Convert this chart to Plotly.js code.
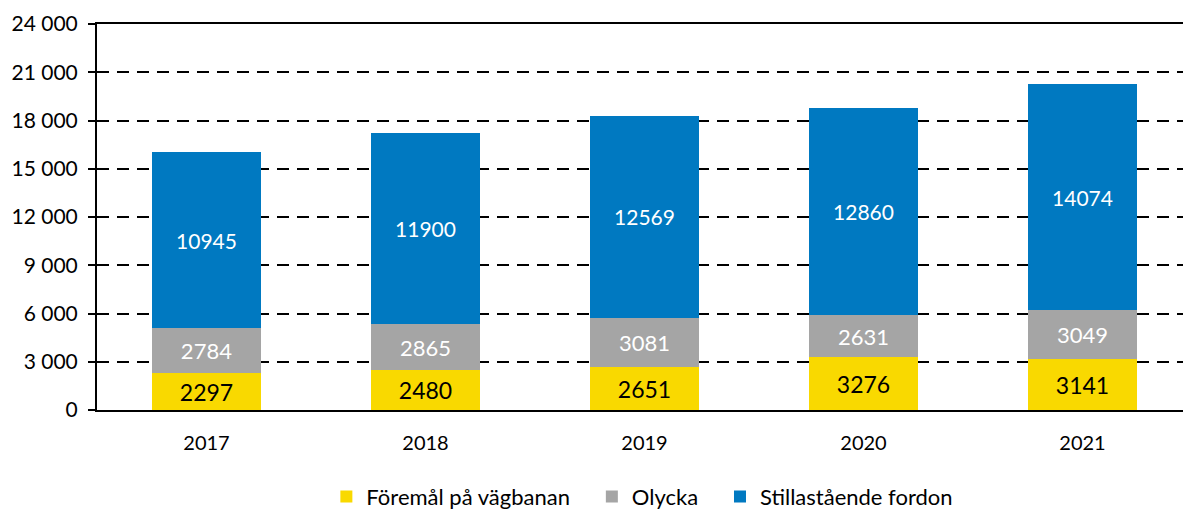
<!DOCTYPE html>
<html>
<head>
<meta charset="utf-8">
<script src="https://cdn.plot.ly/plotly-3.0.1.min.js"></script>
<style>html,body{margin:0;padding:0;background:#fff;}#chart{width:1183px;height:510px;}</style>
</head>
<body>
<div id="chart"></div>
<script>
const years = ['2017', '2018', '2019', '2020', '2021'];
const foremal = [2297, 2480, 2651, 3276, 3141];
const olycka = [2784, 2865, 3081, 2631, 3049];
const stillastaende = [10945, 11900, 12569, 12860, 14074];
const seriesNames = ['Föremål på vägbanan', 'Olycka', 'Stillastående fordon'];
const yTicks = [0, 3000, 6000, 9000, 12000, 15000, 18000, 21000, 24000];
const yTickLabels = ['0', '3 000', '6 000', '9 000', '12 000', '15 000', '18 000', '21 000', '24 000'];

const FONT = 'Lato, "Open Sans", sans-serif';
const PAD = '\u00a0\u00a0\u00a0';

function mk(name, vals, color, textColor, size) {
  return {
    type: 'bar', name: name, x: years, y: vals,
    marker: {color: color, line: {width: 0}},
    text: vals.map(String), textposition: 'inside', insidetextanchor: 'middle',
    textangle: 0, constraintext: 'none',
    textfont: {family: FONT, size: size, color: textColor},
    hoverinfo: 'skip'
  };
}

const data = [
  mk(seriesNames[0] + PAD, foremal, '#F9D900', '#000000', 23),
  mk(seriesNames[1] + PAD, olycka, '#A5A5A5', '#FFFFFF', 22),
  mk(seriesNames[2], stillastaende, '#0079C1', '#FFFFFF', 21)
];

const layout = {
  width: 1183, height: 510,
  margin: {l: 97, r: 0, t: 24, b: 100, pad: 0},
  paper_bgcolor: '#fff', plot_bgcolor: '#fff',
  barmode: 'stack', bargap: 0.5,
  font: {family: FONT, size: 20, color: '#000'},
  showlegend: true,
  legend: {orientation: 'h', x: 0.543, xanchor: 'center', xref: 'container', y: 0.026, yanchor: 'middle', yref: 'container',
    font: {family: FONT, size: 22, color: '#000'}, traceorder: 'normal'},
  xaxis: {type: 'category', range: [-0.5, 4.459], showline: true, linecolor: '#000', linewidth: 2,
    mirror: true, ticks: '', tickfont: {family: FONT, size: 20}, ticklabelstandoff: 14, showgrid: false, zeroline: false},
  yaxis: {range: [0, 24000], tickvals: yTicks, ticktext: yTickLabels, showline: true, linecolor: '#000', linewidth: 2,
    ticks: 'outside', ticklen: 7, tickwidth: 2, tickcolor: '#000', tickfont: {family: FONT, size: 21},
    showgrid: true, gridcolor: '#000', gridwidth: 2, griddash: '12px,8px', zeroline: false, ticklabelstandoff: 6}
};

Plotly.newPlot('chart', data, layout, {displayModeBar: false, staticPlot: true});
</script>
</body>
</html>
